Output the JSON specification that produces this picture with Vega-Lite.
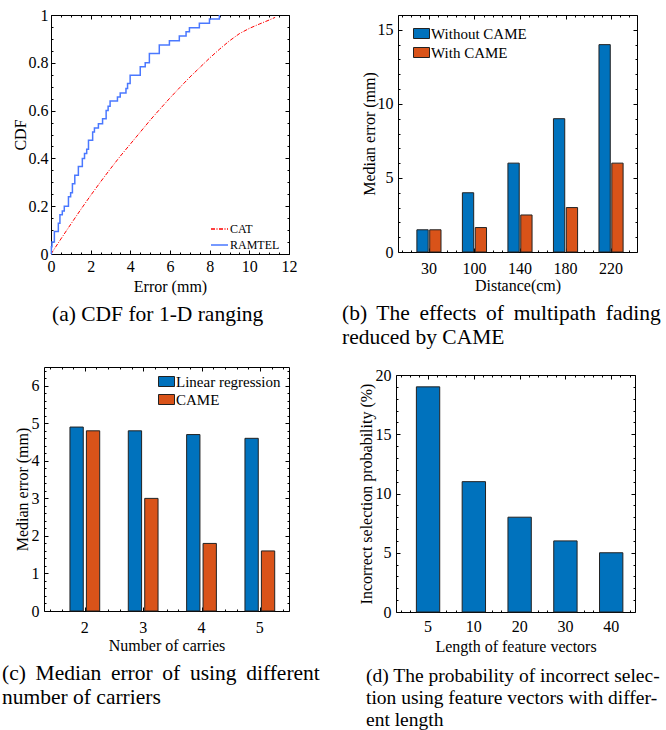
{
  "$schema": "https://vega.github.io/schema/vega-lite/v6.json",
  "padding": {"left": 0, "top": 0, "right": 0, "bottom": 0},
  "background": "white",
  "config": {
    "font": "Liberation Serif",
    "view": {"stroke": "#000", "strokeWidth": 1},
    "axis": {"labelFont": "Liberation Serif", "titleFont": "Liberation Serif", "labelFontSize": 16, "titleFontSize": 16, "titleFontWeight": "normal", "labelColor": "#000", "titleColor": "#000", "tickColor": "#000", "tickWidth": 1, "domain": false, "grid": false, "labelFlush": false, "labelOverlap": false, "minExtent": 0},
    "legend": {"labelFont": "Liberation Serif", "labelColor": "#000", "padding": 0},
    "title": {"font": "Liberation Serif", "fontSize": 21.5, "fontWeight": "normal", "color": "#000", "lineHeight": 24}
  },
  "datasets": {
    "cdf": [
      {"method": "CAT", "error": 0, "cdf": 0},
      {"method": "CAT", "error": 0.5, "cdf": 0.063},
      {"method": "CAT", "error": 1, "cdf": 0.125},
      {"method": "CAT", "error": 1.5, "cdf": 0.186},
      {"method": "CAT", "error": 2, "cdf": 0.245},
      {"method": "CAT", "error": 2.5, "cdf": 0.302},
      {"method": "CAT", "error": 3, "cdf": 0.357},
      {"method": "CAT", "error": 3.5, "cdf": 0.41},
      {"method": "CAT", "error": 4, "cdf": 0.46},
      {"method": "CAT", "error": 4.5, "cdf": 0.51},
      {"method": "CAT", "error": 5, "cdf": 0.56},
      {"method": "CAT", "error": 5.5, "cdf": 0.607},
      {"method": "CAT", "error": 6, "cdf": 0.653},
      {"method": "CAT", "error": 6.5, "cdf": 0.697},
      {"method": "CAT", "error": 7, "cdf": 0.74},
      {"method": "CAT", "error": 7.5, "cdf": 0.78},
      {"method": "CAT", "error": 8, "cdf": 0.82},
      {"method": "CAT", "error": 8.5, "cdf": 0.857},
      {"method": "CAT", "error": 9, "cdf": 0.892},
      {"method": "CAT", "error": 9.5, "cdf": 0.922},
      {"method": "CAT", "error": 10, "cdf": 0.944},
      {"method": "CAT", "error": 10.5, "cdf": 0.962},
      {"method": "CAT", "error": 11, "cdf": 0.979},
      {"method": "CAT", "error": 11.3, "cdf": 0.99},
      {"method": "RAMTEL", "error": 0, "cdf": 0},
      {"method": "RAMTEL", "error": 0.02, "cdf": 0.03},
      {"method": "RAMTEL", "error": 0.05, "cdf": 0.05},
      {"method": "RAMTEL", "error": 0.17, "cdf": 0.094},
      {"method": "RAMTEL", "error": 0.37, "cdf": 0.129},
      {"method": "RAMTEL", "error": 0.45, "cdf": 0.164},
      {"method": "RAMTEL", "error": 0.57, "cdf": 0.18},
      {"method": "RAMTEL", "error": 0.67, "cdf": 0.2},
      {"method": "RAMTEL", "error": 0.88, "cdf": 0.24},
      {"method": "RAMTEL", "error": 0.99, "cdf": 0.256},
      {"method": "RAMTEL", "error": 1.08, "cdf": 0.294},
      {"method": "RAMTEL", "error": 1.2, "cdf": 0.33},
      {"method": "RAMTEL", "error": 1.38, "cdf": 0.366},
      {"method": "RAMTEL", "error": 1.58, "cdf": 0.4},
      {"method": "RAMTEL", "error": 1.69, "cdf": 0.42},
      {"method": "RAMTEL", "error": 1.8, "cdf": 0.438},
      {"method": "RAMTEL", "error": 1.89, "cdf": 0.476},
      {"method": "RAMTEL", "error": 2.1, "cdf": 0.51},
      {"method": "RAMTEL", "error": 2.19, "cdf": 0.527},
      {"method": "RAMTEL", "error": 2.39, "cdf": 0.545},
      {"method": "RAMTEL", "error": 2.6, "cdf": 0.566},
      {"method": "RAMTEL", "error": 2.78, "cdf": 0.6},
      {"method": "RAMTEL", "error": 2.88, "cdf": 0.618},
      {"method": "RAMTEL", "error": 2.98, "cdf": 0.64},
      {"method": "RAMTEL", "error": 3.35, "cdf": 0.657},
      {"method": "RAMTEL", "error": 3.49, "cdf": 0.674},
      {"method": "RAMTEL", "error": 3.78, "cdf": 0.692},
      {"method": "RAMTEL", "error": 3.86, "cdf": 0.713},
      {"method": "RAMTEL", "error": 3.99, "cdf": 0.748},
      {"method": "RAMTEL", "error": 4.5, "cdf": 0.783},
      {"method": "RAMTEL", "error": 4.75, "cdf": 0.8},
      {"method": "RAMTEL", "error": 4.96, "cdf": 0.839},
      {"method": "RAMTEL", "error": 5.46, "cdf": 0.874},
      {"method": "RAMTEL", "error": 5.97, "cdf": 0.892},
      {"method": "RAMTEL", "error": 6.47, "cdf": 0.912},
      {"method": "RAMTEL", "error": 6.81, "cdf": 0.93},
      {"method": "RAMTEL", "error": 6.98, "cdf": 0.947},
      {"method": "RAMTEL", "error": 7.48, "cdf": 0.965},
      {"method": "RAMTEL", "error": 7.99, "cdf": 0.983},
      {"method": "RAMTEL", "error": 8.49, "cdf": 1.0}
    ],
    "multipath": [
      {"distance": "30", "series": "Without CAME", "error": 1.5},
      {"distance": "30", "series": "With CAME", "error": 1.5},
      {"distance": "100", "series": "Without CAME", "error": 4},
      {"distance": "100", "series": "With CAME", "error": 1.65},
      {"distance": "140", "series": "Without CAME", "error": 6},
      {"distance": "140", "series": "With CAME", "error": 2.5},
      {"distance": "180", "series": "Without CAME", "error": 9},
      {"distance": "180", "series": "With CAME", "error": 3},
      {"distance": "220", "series": "Without CAME", "error": 14},
      {"distance": "220", "series": "With CAME", "error": 6}
    ],
    "carriers": [
      {"carriers": "2", "method": "Linear regression", "error": 4.9},
      {"carriers": "2", "method": "CAME", "error": 4.8},
      {"carriers": "3", "method": "Linear regression", "error": 4.8},
      {"carriers": "3", "method": "CAME", "error": 3.0},
      {"carriers": "4", "method": "Linear regression", "error": 4.7},
      {"carriers": "4", "method": "CAME", "error": 1.8},
      {"carriers": "5", "method": "Linear regression", "error": 4.6},
      {"carriers": "5", "method": "CAME", "error": 1.6}
    ],
    "feature": [
      {"length": "5", "prob": 19},
      {"length": "10", "prob": 11},
      {"length": "20", "prob": 8},
      {"length": "30", "prob": 6},
      {"length": "40", "prob": 5}
    ]
  },
  "vconcat": [
    {
      "hconcat": [
        {"width": 8, "height": 1, "data": {"values": []}, "mark": "point", "view": {"stroke": null}},
        {
          "width": 238, "height": 239,
          "data": {"name": "cdf"},
          "title": {"text": "(a) CDF for 1-D ranging", "orient": "bottom", "anchor": "start", "frame": "group", "dx": 1, "offset": 9},
          "layer": [
            {
              "transform": [{"filter": "datum.method === 'CAT'"}],
              "mark": {"type": "line", "strokeWidth": 1},
              "encoding": {
                "x": {"field": "error", "type": "quantitative", "scale": {"domain": [0, 12], "nice": false, "zero": false},
                  "axis": {"title": "Error (mm)", "format": "~g", "values": [0,0.5,1,1.5,2,2.5,3,3.5,4,4.5,5,5.5,6,6.5,7,7.5,8,8.5,9,9.5,10,10.5,11,11.5,12],
                    "labelExpr": "datum.value % 2 === 0 ? datum.label : ''",
                    "tickSize": {"condition": {"test": "datum.value % 2 !== 0", "value": -2}, "value": -4},
                    "labelPadding": 8.7, "titlePadding": 2}},
                "y": {"field": "cdf", "type": "quantitative", "scale": {"domain": [0, 1], "nice": false},
                  "axis": {"title": "CDF", "format": "~g", "values": [0,0.05,0.1,0.15,0.2,0.25,0.3,0.35,0.4,0.45,0.5,0.55,0.6,0.65,0.7,0.75,0.8,0.85,0.9,0.95,1],
                    "labelExpr": "abs(datum.value*5 - round(datum.value*5)) < 0.001 ? datum.label : ''",
                    "tickSize": {"condition": {"test": "abs(datum.value*5 - round(datum.value*5)) > 0.001", "value": -2}, "value": -4},
                    "labelPadding": 7, "titlePadding": 0}},
                "color": {"field": "method", "type": "nominal", "scale": {"domain": ["CAT", "RAMTEL"], "range": ["#ff0000", "#4a78ff"]},
                  "legend": {"orient": "none", "legendX": 159, "legendY": 204.5, "title": null, "symbolType": "stroke", "symbolSize": 289, "symbolStrokeWidth": 1.5, "labelFontSize": 12, "labelOffset": 1, "rowPadding": -3}},
                "strokeDash": {"field": "method", "type": "nominal", "scale": {"domain": ["CAT", "RAMTEL"], "range": [[4, 1.5, 1, 1.5], [1, 0]]},
                  "legend": {"orient": "none", "legendX": 159, "legendY": 204.5, "title": null, "symbolType": "stroke", "symbolSize": 289, "symbolStrokeWidth": 1.5, "labelFontSize": 12, "labelOffset": 1, "rowPadding": -3}}
              }
            },
            {
              "transform": [{"filter": "datum.method === 'RAMTEL'"}],
              "mark": {"type": "line", "strokeWidth": 1.5, "interpolate": "step-after"},
              "encoding": {
                "x": {"field": "error", "type": "quantitative", "axis": null},
                "y": {"field": "cdf", "type": "quantitative", "axis": {"orient": "left", "labels": false, "ticks": false, "domain": false, "title": null, "minExtent": 42, "titlePadding": 0}},
                "color": {"field": "method", "type": "nominal"},
                "strokeDash": {"field": "method", "type": "nominal"}
              }
            },
            {
              "mark": {"type": "point", "opacity": 0},
              "encoding": {
                "x": {"datum": 0, "type": "quantitative",
                  "axis": {"orient": "top", "labels": false, "title": null, "minExtent": 14, "titlePadding": 0, "values": [0,0.5,1,1.5,2,2.5,3,3.5,4,4.5,5,5.5,6,6.5,7,7.5,8,8.5,9,9.5,10,10.5,11,11.5,12],
                    "tickSize": {"condition": {"test": "datum.value % 2 !== 0", "value": -2}, "value": -4}}},
                "y": {"datum": 0, "type": "quantitative",
                  "axis": {"orient": "right", "labels": false, "title": null, "values": [0,0.05,0.1,0.15,0.2,0.25,0.3,0.35,0.4,0.45,0.5,0.55,0.6,0.65,0.7,0.75,0.8,0.85,0.9,0.95,1],
                    "tickSize": {"condition": {"test": "abs(datum.value*5 - round(datum.value*5)) > 0.001", "value": -2}, "value": -4}}}
              }
            }
          ],
          "resolve": {"axis": {"x": "independent", "y": "independent"}}
        },
        {"width": 43, "height": 1, "data": {"values": []}, "mark": "point", "view": {"stroke": null}},
        {
          "width": 239, "height": 237,
          "data": {"name": "multipath"},
          "title": {"text": ["(b)\u2009 The\u2009 effects\u2009 of\u2009 multipath\u2009 fading", "reduced by CAME"], "orient": "bottom", "anchor": "start", "frame": "group", "dx": -56, "offset": 9},
          "layer": [
            {
              "mark": {"type": "bar", "stroke": "#222", "strokeWidth": 1},
              "encoding": {
                "x": {"field": "distance", "type": "nominal", "sort": ["30", "100", "140", "180", "220"], "scale": {"paddingInner": 0.47, "paddingOuter": 0.36, "align": 0.576},
                  "axis": {"title": "Distance(cm)", "ticks": false, "labelAngle": 0, "labelPadding": 8.7, "titlePadding": 1}},
                "xOffset": {"field": "series", "sort": ["Without CAME", "With CAME"], "scale": {"paddingInner": 0.12}},
                "y": {"field": "error", "type": "quantitative", "scale": {"domain": [0, 16], "nice": false},
                  "axis": {"title": "Median error (mm)", "values": [0,1,2,3,4,5,6,7,8,9,10,11,12,13,14,15,16],
                    "labelExpr": "datum.value % 5 === 0 ? datum.label : ''",
                    "tickSize": {"condition": {"test": "datum.value % 5 !== 0", "value": -2}, "value": -4},
                    "labelPadding": 9, "titlePadding": 0}},
                "color": {"field": "series", "type": "nominal", "sort": ["Without CAME", "With CAME"], "scale": {"domain": ["Without CAME", "With CAME"], "range": ["#0072BD", "#D95319"]},
                  "legend": {"orient": "none", "legendX": 15, "legendY": 10, "title": null, "symbolType": "M-1,-0.625H1V0.625H-1Z", "symbolSize": 256, "symbolStrokeColor": "#222", "symbolStrokeWidth": 1, "labelFontSize": 15, "labelOffset": 1, "rowPadding": 2}}
              }
            },
            {
              "mark": {"type": "point", "opacity": 0},
              "encoding": {
                "x": {"datum": 1, "type": "quantitative", "scale": {"domain": [0.32, 5.57], "nice": false, "zero": false},
                  "axis": {"orient": "bottom", "labels": false, "title": null, "values": [0.4,0.6,0.8,1,1.2,1.4,1.6,1.8,2,2.2,2.4,2.6,2.8,3,3.2,3.4,3.6,3.8,4,4.2,4.4,4.6,4.8,5,5.2,5.4],
                    "tickSize": {"condition": {"test": "abs(datum.value - round(datum.value)) > 0.001", "value": -2}, "value": -4}}},
                "y": {"datum": 0, "type": "quantitative",
                  "axis": {"orient": "right", "labels": false, "title": null, "values": [0,1,2,3,4,5,6,7,8,9,10,11,12,13,14,15,16],
                    "tickSize": {"condition": {"test": "datum.value % 5 !== 0", "value": -2}, "value": -4}}}
              }
            },
            {
              "mark": {"type": "point", "opacity": 0},
              "encoding": {
                "x": {"datum": 1, "type": "quantitative", "scale": {"domain": [0.32, 5.57], "nice": false, "zero": false},
                  "axis": {"orient": "top", "labels": false, "title": null, "minExtent": 14, "titlePadding": 0, "values": [0.4,0.6,0.8,1,1.2,1.4,1.6,1.8,2,2.2,2.4,2.6,2.8,3,3.2,3.4,3.6,3.8,4,4.2,4.4,4.6,4.8,5,5.2,5.4],
                    "tickSize": {"condition": {"test": "abs(datum.value - round(datum.value)) > 0.001", "value": -2}, "value": -4}}},
                "y": {"datum": 0, "type": "quantitative", "axis": {"orient": "left", "labels": false, "ticks": false, "domain": false, "title": null, "minExtent": 56, "titlePadding": 0}}
              }
            }
          ],
          "resolve": {"scale": {"x": "independent"}, "axis": {"x": "independent", "y": "independent"}}
        }
      ],
      "spacing": 0,
      "resolve": {"scale": {"color": "independent", "strokeDash": "independent", "xOffset": "independent"}}
    },
    {
      "hconcat": [
        {"width": 1, "height": 1, "data": {"values": []}, "mark": "point", "view": {"stroke": null}},
        {
          "vconcat": [
            {"width": 1, "height": 1, "data": {"values": []}, "mark": "point", "view": {"stroke": null}},
            {
              "width": 245, "height": 244,
              "data": {"name": "carriers"},
              "title": {"text": ["(c)\u2009 Median\u2009 error\u2009 of\u2009 using\u2009 different", "number of carriers"], "orient": "bottom", "anchor": "start", "frame": "group", "dx": -42, "offset": 9},
              "layer": [
                {
                  "mark": {"type": "bar", "stroke": "#222", "strokeWidth": 1},
                  "encoding": {
                    "x": {"field": "carriers", "type": "nominal", "sort": ["2", "3", "4", "5"], "scale": {"paddingInner": 0.49, "paddingOuter": 0.345, "align": 0.645},
                      "axis": {"title": "Number of carries", "ticks": false, "labelAngle": 0, "labelPadding": 8.7, "titlePadding": 2}},
                    "xOffset": {"field": "method", "sort": ["Linear regression", "CAME"], "scale": {"paddingInner": 0.19}},
                    "y": {"field": "error", "type": "quantitative", "scale": {"domain": [0, 6.5], "nice": false},
                      "axis": {"title": "Median error (mm)", "values": [0,0.2,0.4,0.6,0.8,1,1.2,1.4,1.6,1.8,2,2.2,2.4,2.6,2.8,3,3.2,3.4,3.6,3.8,4,4.2,4.4,4.6,4.8,5,5.2,5.4,5.6,5.8,6,6.2,6.4],
                        "labelExpr": "abs(datum.value - round(datum.value)) < 0.001 ? datum.label : ''",
                        "format": "~g",
                        "tickSize": {"condition": {"test": "abs(datum.value - round(datum.value)) > 0.001", "value": -2}, "value": -4},
                        "labelPadding": 9, "titlePadding": 1}},
                    "color": {"field": "method", "type": "nominal", "sort": ["Linear regression", "CAME"], "scale": {"domain": ["Linear regression", "CAME"], "range": ["#0072BD", "#D95319"]},
                      "legend": {"orient": "none", "legendX": 114, "legendY": 6, "title": null, "symbolType": "M-1,-0.625H1V0.625H-1Z", "symbolSize": 256, "symbolStrokeColor": "#222", "symbolStrokeWidth": 1, "labelFontSize": 15, "labelOffset": 1, "rowPadding": 1}}
                  }
                },
                {
                  "mark": {"type": "point", "opacity": 0},
                  "encoding": {
                    "x": {"datum": 1, "type": "quantitative", "scale": {"domain": [0.3, 4.5], "nice": false, "zero": false},
                      "axis": {"orient": "bottom", "labels": false, "title": null, "values": [0.4,0.6,0.8,1,1.2,1.4,1.6,1.8,2,2.2,2.4,2.6,2.8,3,3.2,3.4,3.6,3.8,4,4.2,4.4],
                        "tickSize": {"condition": {"test": "abs(datum.value - round(datum.value)) > 0.001", "value": -2}, "value": -4}}},
                    "y": {"datum": 0, "type": "quantitative",
                      "axis": {"orient": "right", "labels": false, "title": null, "values": [0,0.2,0.4,0.6,0.8,1,1.2,1.4,1.6,1.8,2,2.2,2.4,2.6,2.8,3,3.2,3.4,3.6,3.8,4,4.2,4.4,4.6,4.8,5,5.2,5.4,5.6,5.8,6,6.2,6.4],
                        "tickSize": {"condition": {"test": "abs(datum.value - round(datum.value)) > 0.001", "value": -2}, "value": -4}}}
                  }
                },
                {
                  "mark": {"type": "point", "opacity": 0},
                  "encoding": {
                    "x": {"datum": 1, "type": "quantitative", "scale": {"domain": [0.3, 4.5], "nice": false, "zero": false},
                      "axis": {"orient": "top", "labels": false, "title": null, "minExtent": 12, "titlePadding": 0, "values": [0.4,0.6,0.8,1,1.2,1.4,1.6,1.8,2,2.2,2.4,2.6,2.8,3,3.2,3.4,3.6,3.8,4,4.2,4.4],
                        "tickSize": {"condition": {"test": "abs(datum.value - round(datum.value)) > 0.001", "value": -2}, "value": -4}}},
                    "y": {"datum": 0, "type": "quantitative", "axis": {"orient": "left", "labels": false, "ticks": false, "domain": false, "title": null, "minExtent": 42, "titlePadding": 0}}
                  }
                }
              ],
              "resolve": {"scale": {"x": "independent"}, "axis": {"x": "independent", "y": "independent"}}
            }
          ],
          "spacing": 0,
          "resolve": {"scale": {"color": "independent", "xOffset": "independent"}}
        },
        {"width": 18, "height": 1, "data": {"values": []}, "mark": "point", "view": {"stroke": null}},
        {
          "vconcat": [
            {"width": 1, "height": 9, "data": {"values": []}, "mark": "point", "view": {"stroke": null}},
            {
              "width": 239, "height": 237,
              "data": {"name": "feature"},
              "title": {"text": ["(d) The probability of incorrect selec-", "tion using feature vectors with differ-", "ent length"], "orient": "bottom", "anchor": "start", "frame": "group", "dx": -30, "offset": 12, "fontSize": 19.5, "lineHeight": 22},
              "layer": [
                {
                  "mark": {"type": "bar", "stroke": "#222", "strokeWidth": 1, "color": "#0072BD"},
                  "encoding": {
                    "x": {"field": "length", "type": "nominal", "sort": ["5", "10", "20", "30", "40"], "scale": {"paddingInner": 0.49, "paddingOuter": 0.355, "align": 0.627},
                      "axis": {"title": "Length of feature vectors", "ticks": false, "labelAngle": 0, "labelPadding": 6.5, "titlePadding": 4}},
                    "y": {"field": "prob", "type": "quantitative", "scale": {"domain": [0, 20], "nice": false},
                      "axis": {"title": "Incorrect selection probability (%)", "values": [0,1,2,3,4,5,6,7,8,9,10,11,12,13,14,15,16,17,18,19,20],
                        "labelExpr": "datum.value % 5 === 0 ? datum.label : ''",
                        "tickSize": {"condition": {"test": "datum.value % 5 !== 0", "value": -2}, "value": -4},
                        "labelPadding": 9, "titlePadding": 1}}
                  }
                },
                {
                  "mark": {"type": "point", "opacity": 0},
                  "encoding": {
                    "x": {"datum": 1, "type": "quantitative", "scale": {"domain": [0.3, 5.52], "nice": false, "zero": false},
                      "axis": {"orient": "bottom", "labels": false, "title": null, "values": [0.4,0.6,0.8,1,1.2,1.4,1.6,1.8,2,2.2,2.4,2.6,2.8,3,3.2,3.4,3.6,3.8,4,4.2,4.4,4.6,4.8,5,5.2,5.4],
                        "tickSize": {"condition": {"test": "abs(datum.value - round(datum.value)) > 0.001", "value": -2}, "value": -4}}},
                    "y": {"datum": 0, "type": "quantitative",
                      "axis": {"orient": "right", "labels": false, "title": null, "values": [0,1,2,3,4,5,6,7,8,9,10,11,12,13,14,15,16,17,18,19,20],
                        "tickSize": {"condition": {"test": "datum.value % 5 !== 0", "value": -2}, "value": -4}}}
                  }
                },
                {
                  "mark": {"type": "point", "opacity": 0},
                  "encoding": {
                    "x": {"datum": 1, "type": "quantitative", "scale": {"domain": [0.3, 5.52], "nice": false, "zero": false},
                      "axis": {"orient": "top", "labels": false, "title": null, "minExtent": 12, "titlePadding": 0, "values": [0.4,0.6,0.8,1,1.2,1.4,1.6,1.8,2,2.2,2.4,2.6,2.8,3,3.2,3.4,3.6,3.8,4,4.2,4.4,4.6,4.8,5,5.2,5.4],
                        "tickSize": {"condition": {"test": "abs(datum.value - round(datum.value)) > 0.001", "value": -2}, "value": -4}}},
                    "y": {"datum": 0, "type": "quantitative", "axis": {"orient": "left", "labels": false, "ticks": false, "domain": false, "title": null, "minExtent": 56, "titlePadding": 0}}
                  }
                }
              ],
              "resolve": {"scale": {"x": "independent"}, "axis": {"x": "independent", "y": "independent"}}
            }
          ],
          "spacing": 0
        }
      ],
      "spacing": 0,
      "resolve": {"scale": {"color": "independent", "strokeDash": "independent", "xOffset": "independent"}}
    }
  ],
  "spacing": 4,
  "resolve": {"scale": {"color": "independent", "strokeDash": "independent", "xOffset": "independent"}}
}
